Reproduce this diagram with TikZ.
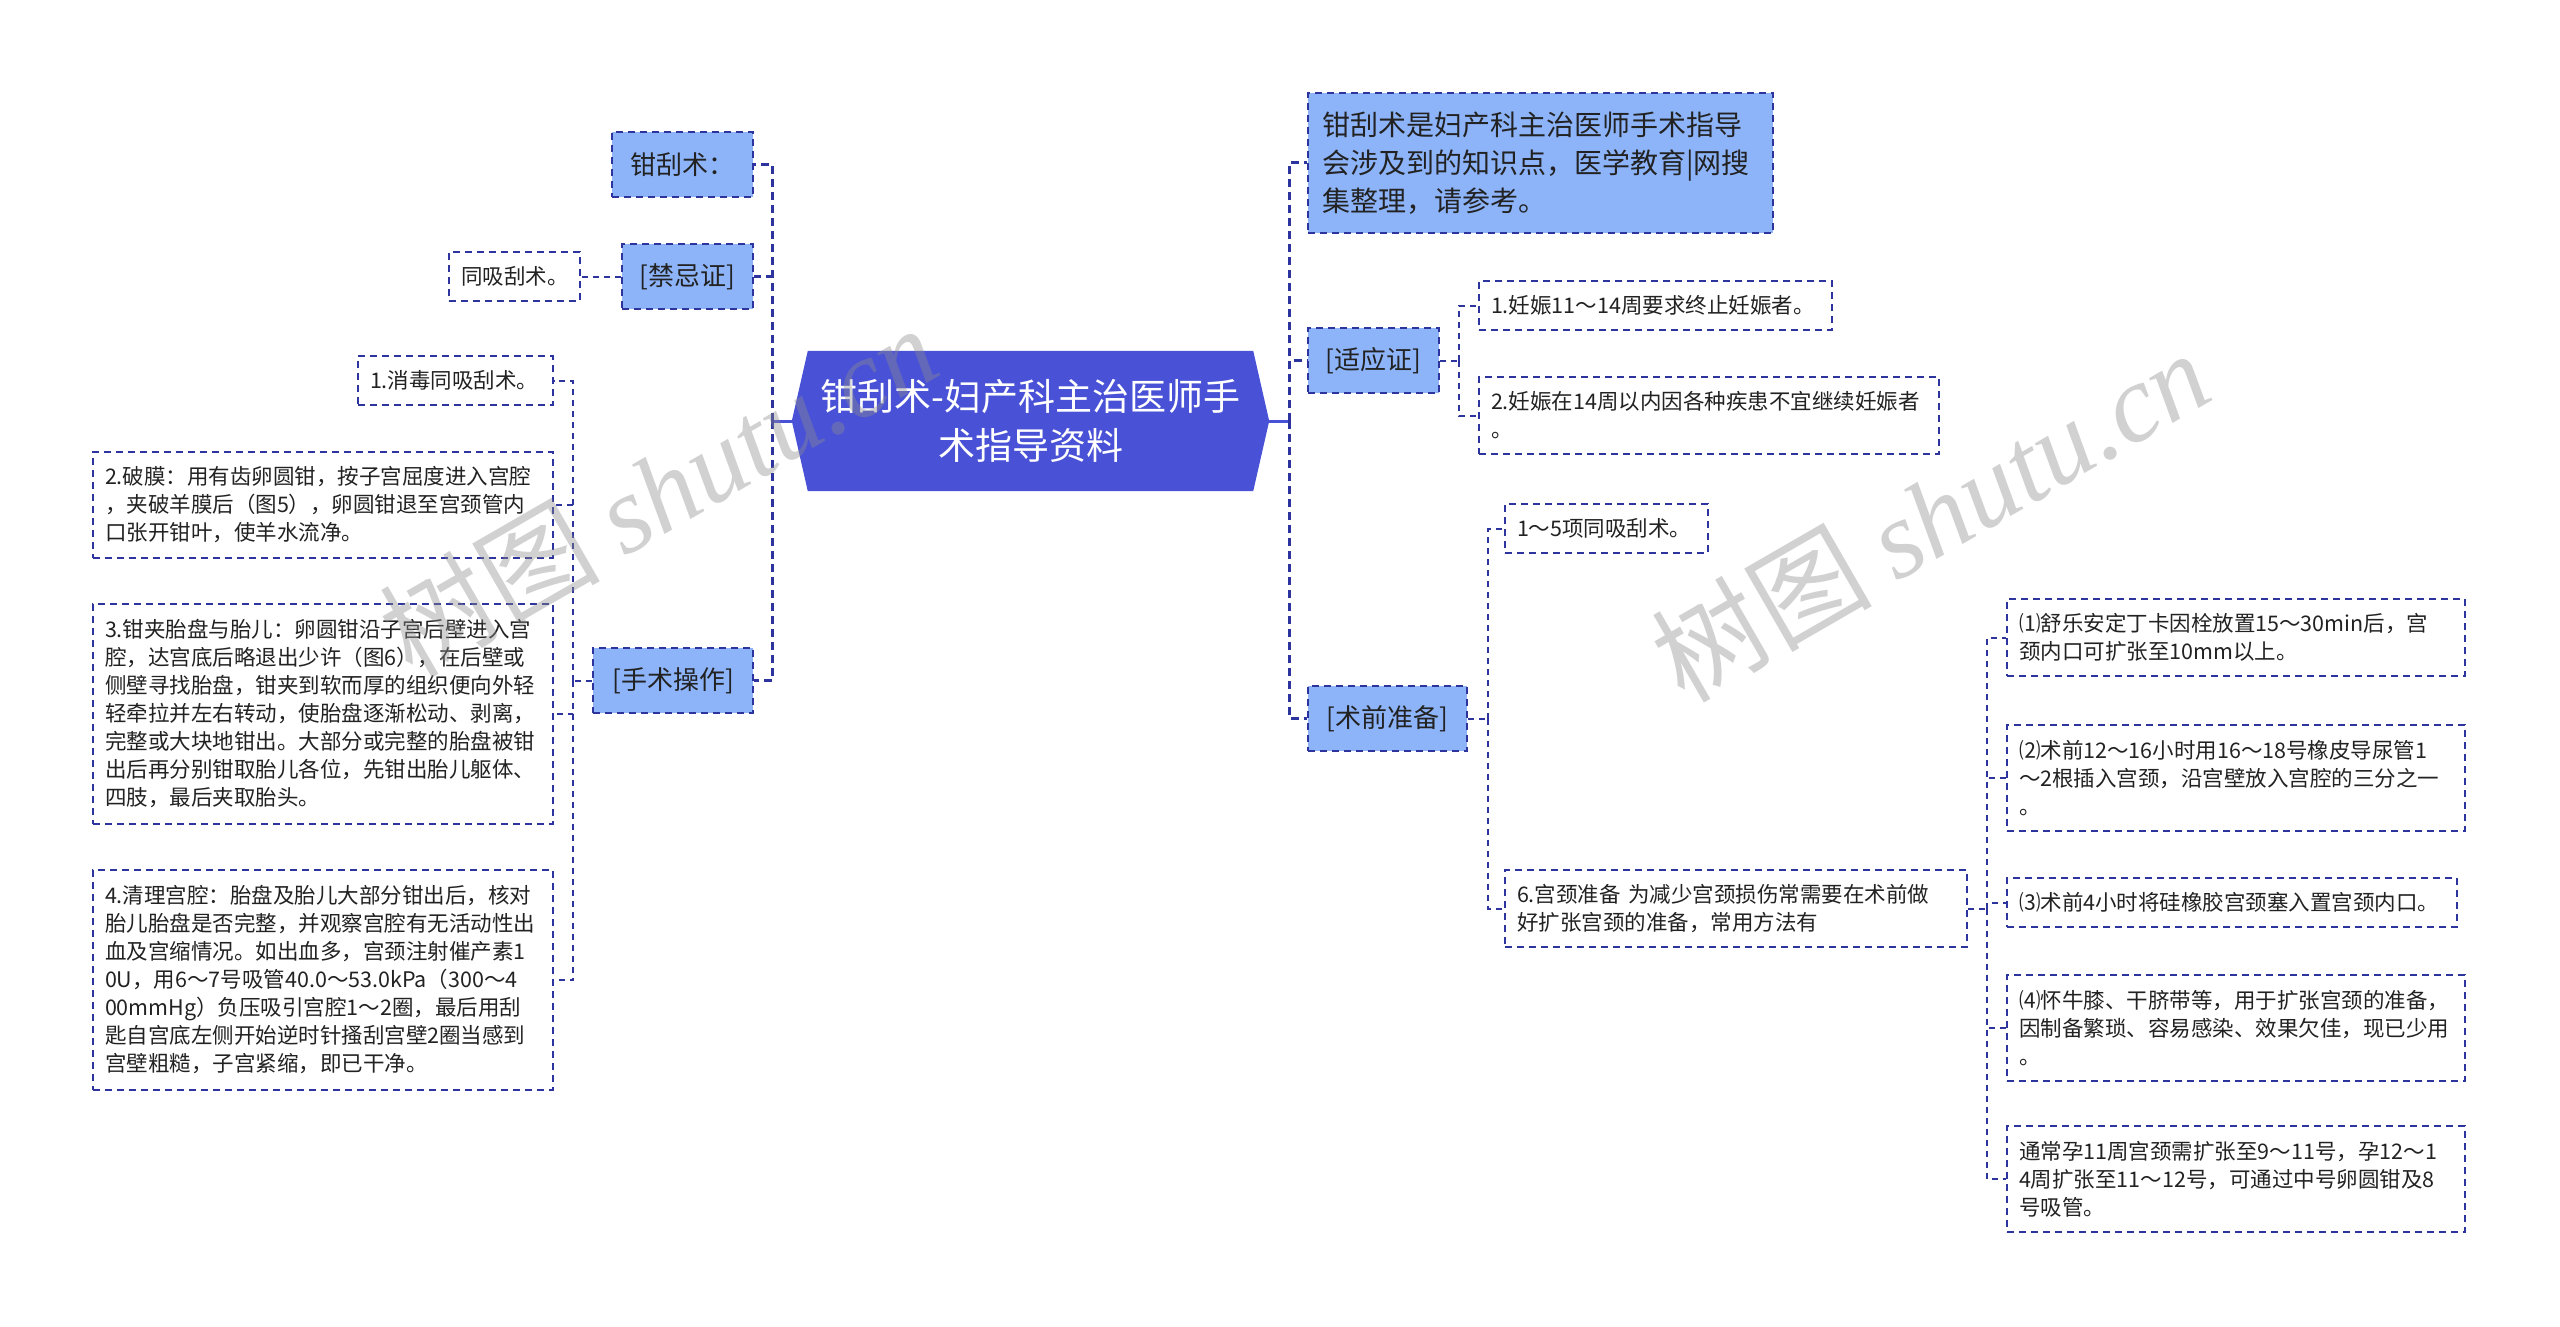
\documentclass[tikz,border=0pt]{standalone}
\usepackage{fontspec}
\newfontfamily\cjk{Noto Sans CJK SC}
\newfontfamily\wmserif{Liberation Serif}
\definecolor{lblue}{RGB}{141,180,249}
\definecolor{rootblue}{RGB}{73,82,214}
\definecolor{navy}{RGB}{46,52,158}
\definecolor{txt}{RGB}{34,34,34}
\pgfdeclarelayer{bg}
\pgfsetlayers{bg,main}
\tikzset{
  lvone/.style={draw=navy, line width=2.4pt, dash pattern=on 7pt off 5pt, fill=lblue,
    font=\cjk\fontsize{26}{32}\selectfont, text=txt, inner sep=0pt, align=center},
  leaf/.style={draw=navy, line width=1.8pt, dash pattern=on 7pt off 5pt, fill=white,
    font=\cjk\fontsize{21.5}{28}\selectfont, text=txt, inner xsep=12pt, inner ysep=0pt, align=left},
  introbox/.style={draw=navy, line width=2.4pt, dash pattern=on 7pt off 5pt, fill=lblue,
    font=\cjk\fontsize{28}{38}\selectfont, text=txt, inner xsep=14pt, inner ysep=0pt, align=left},
  rootnode/.style={font=\cjk\fontsize{37}{49}\selectfont, text=white, inner sep=0pt, align=center},
  maincon/.style={draw=navy, line width=3pt, dash pattern=on 8pt off 5pt},
  subcon/.style={draw=navy, line width=2pt, dash pattern=on 6pt off 5pt},
  rootcon/.style={draw=rootblue, line width=3pt},
  watermark/.style={text=black!45, opacity=0.4, rotate=30, inner sep=0pt}
}
\begin{document}
\begin{tikzpicture}[x=1pt, y=-1pt]
\useasboundingbox (0,0) rectangle (2560,1327);

% root
\node[rootnode, minimum width=477pt, minimum height=140pt] (root) at (1030.5,421)
  {钳刮术-妇产科主治医师手\\术指导资料};
\begin{pgfonlayer}{bg}
\fill[white] (0,0) rectangle (2560,1327);
\fill[rootblue] (root.west) -- ([xshift=16pt]root.north west) -- ([xshift=-16pt]root.north east)
  -- (root.east) -- ([xshift=-16pt]root.south east) -- ([xshift=16pt]root.south west) -- cycle;
\end{pgfonlayer}

% left level one
\node[lvone, minimum width=141pt, minimum height=65pt] (k1) at (682.5,164.5) {钳刮术：};
\node[lvone, minimum width=131pt, minimum height=65pt] (jj) at (687.5,276.5) {[禁忌证]};
\node[lvone, minimum width=160pt, minimum height=65pt] (ss) at (673,680.5) {[手术操作]};

% left leaves
\node[leaf, text width=107pt, minimum height=49pt] (tx) at (514.5,276.5) {同吸刮术。};
\node[leaf, text width=171pt, minimum height=49pt] (s1) at (455.5,380.5) {1.消毒同吸刮术。};
\node[leaf, text width=436pt, minimum height=106pt] (s2) at (323,505)
  {2.破膜：用有齿卵圆钳，按子宫屈度进入宫腔\\，夹破羊膜后（图5），卵圆钳退至宫颈管内\\口张开钳叶，使羊水流净。};
\node[leaf, text width=436pt, minimum height=220pt] (s3) at (323,714)
  {3.钳夹胎盘与胎儿：卵圆钳沿子宫后壁进入宫\\腔，达宫底后略退出少许（图6），在后壁或\\侧壁寻找胎盘，钳夹到软而厚的组织便向外轻\\轻牵拉并左右转动，使胎盘逐渐松动、剥离，\\完整或大块地钳出。大部分或完整的胎盘被钳\\出后再分别钳取胎儿各位，先钳出胎儿躯体、\\四肢，最后夹取胎头。};
\node[leaf, text width=436pt, minimum height=220pt] (s4) at (323,980)
  {4.清理宫腔：胎盘及胎儿大部分钳出后，核对\\胎儿胎盘是否完整，并观察宫腔有无活动性出\\血及宫缩情况。如出血多，宫颈注射催产素1\\0U，用6～7号吸管40.0～53.0kPa（300～4\\00mmHg）负压吸引宫腔1～2圈，最后用刮\\匙自宫底左侧开始逆时针搔刮宫壁2圈当感到\\宫壁粗糙，子宫紧缩，即已干净。};

% right level one
\node[introbox, text width=437pt, minimum height=140pt] (intro) at (1540.5,163)
  {钳刮术是妇产科主治医师手术指导\\会涉及到的知识点，医学教育|网搜\\集整理，请参考。};
\node[lvone, minimum width=131pt, minimum height=65pt] (yy) at (1373.5,360.5) {[适应证]};
\node[lvone, minimum width=159pt, minimum height=65pt] (qq) at (1387.5,718.5) {[术前准备]};

% right leaves
\node[leaf, text width=329pt, minimum height=49pt] (y1) at (1655.5,305.5) {1.妊娠11～14周要求终止妊娠者。};
\node[leaf, text width=436pt, minimum height=77pt] (y2) at (1709,415.5) {2.妊娠在14周以内因各种疾患不宜继续妊娠者\\。};
\node[leaf, text width=179pt, minimum height=49pt] (q1) at (1606.5,528.5) {1～5项同吸刮术。};
\node[leaf, text width=438pt, minimum height=77pt] (q6) at (1736,908.5)
  {6.宫颈准备 为减少宫颈损伤常需要在术前做\\好扩张宫颈的准备，常用方法有};
\node[leaf, text width=434pt, minimum height=77pt] (g1) at (2236,637.5)
  {⑴舒乐安定丁卡因栓放置15～30min后，宫\\颈内口可扩张至10mm以上。};
\node[leaf, text width=434pt, minimum height=106pt] (g2) at (2236,778)
  {⑵术前12～16小时用16～18号橡皮导尿管1\\～2根插入宫颈，沿宫壁放入宫腔的三分之一\\。};
\node[leaf, text width=426pt, minimum height=49pt] (g3) at (2232,902.5)
  {⑶术前4小时将硅橡胶宫颈塞入置宫颈内口。};
\node[leaf, text width=434pt, minimum height=106pt] (g4) at (2236,1028)
  {⑷怀牛膝、干脐带等，用于扩张宫颈的准备，\\因制备繁琐、容易感染、效果欠佳，现已少用\\。};
\node[leaf, text width=434pt, minimum height=106pt] (g5) at (2236,1179)
  {通常孕11周宫颈需扩张至9～11号，孕12～1\\4周扩张至11～12号，可通过中号卵圆钳及8\\号吸管。};

% trunk points
\coordinate (LT) at (772,421);
\coordinate (RT) at (1289,421);
\coordinate (ST) at (573,680.5);
\coordinate (YT) at (1459,360.5);
\coordinate (QT) at (1488,718.5);
\coordinate (GT) at (1987,908.5);

% connectors
\draw[rootcon] (root.west) -- (LT);
\draw[rootcon] (root.east) -- (RT);
\draw[maincon] (LT) |- (k1.east);
\draw[maincon] (LT) |- (jj.east);
\draw[maincon] (LT) |- (ss.east);
\draw[maincon] (RT) |- (intro.west);
\draw[maincon] (RT) |- (yy.west);
\draw[maincon] (RT) |- (qq.west);

\draw[subcon] (jj.west) -- (tx.east);
\draw[subcon] (ss.west) -- (ST);
\draw[subcon] (ST) |- (s1.east);
\draw[subcon] (ST) |- (s2.east);
\draw[subcon] (ST) |- (s3.east);
\draw[subcon] (ST) |- (s4.east);

\draw[subcon] (yy.east) -- (YT);
\draw[subcon] (YT) |- (y1.west);
\draw[subcon] (YT) |- (y2.west);

\draw[subcon] (qq.east) -- (QT);
\draw[subcon] (QT) |- (q1.west);
\draw[subcon] (QT) |- (q6.west);

\draw[subcon] (q6.east) -- (GT);
\draw[subcon] (GT) |- (g1.west);
\draw[subcon] (GT) |- (g2.west);
\draw[subcon] (GT) |- (g3.west);
\draw[subcon] (GT) |- (g4.west);
\draw[subcon] (GT) |- (g5.west);

% watermarks
\node[watermark] (wm1) at (658,490) {\fontsize{110}{110}\selectfont\cjk 树图 {\wmserif\itshape shutu.cn}};
\node[watermark] (wm2) at (1930,515) {\fontsize{110}{110}\selectfont\cjk 树图 {\wmserif\itshape shutu.cn}};
\end{tikzpicture}
\end{document}
